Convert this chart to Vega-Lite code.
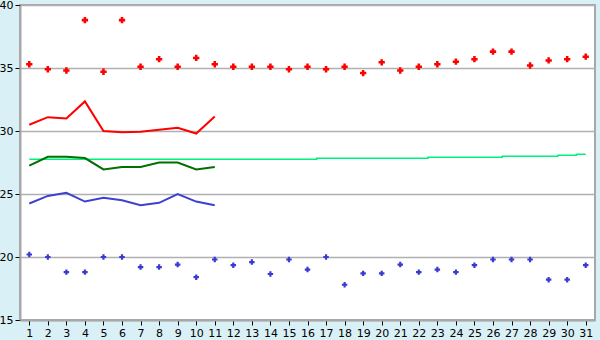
{
  "$schema": "https://vega.github.io/schema/vega-lite/v6.json",
  "width": 575,
  "height": 315,
  "autosize": {"type": "none"},
  "padding": {"left": 20, "top": 5, "right": 5, "bottom": 20},
  "background": "#d9f0f6",
  "config": {
    "view": {"fill": "white", "stroke": "#a8a8a8", "strokeWidth": 2},
    "axis": {"labelFont": "DejaVu Sans", "labelFontSize": 11, "labelColor": "black", "domainColor": "#a8a8a8", "domainWidth": 2, "tickColor": "black", "tickSize": 5, "labelPadding": 2}
  },
  "datasets": {
    "maxrec": [
      {"day": 1, "v": 35.3}, {"day": 2, "v": 34.9}, {"day": 3, "v": 34.8}, {"day": 4, "v": 38.8},
      {"day": 5, "v": 34.7}, {"day": 6, "v": 38.8}, {"day": 7, "v": 35.1}, {"day": 8, "v": 35.7},
      {"day": 9, "v": 35.1}, {"day": 10, "v": 35.8}, {"day": 11, "v": 35.3}, {"day": 12, "v": 35.1},
      {"day": 13, "v": 35.1}, {"day": 14, "v": 35.1}, {"day": 15, "v": 34.9}, {"day": 16, "v": 35.1},
      {"day": 17, "v": 34.9}, {"day": 18, "v": 35.1}, {"day": 19, "v": 34.6}, {"day": 20, "v": 35.45},
      {"day": 21, "v": 34.8}, {"day": 22, "v": 35.1}, {"day": 23, "v": 35.3}, {"day": 24, "v": 35.5},
      {"day": 25, "v": 35.7}, {"day": 26, "v": 36.3}, {"day": 27, "v": 36.3}, {"day": 28, "v": 35.2},
      {"day": 29, "v": 35.6}, {"day": 30, "v": 35.7}, {"day": 31, "v": 35.9}
    ],
    "minrec": [
      {"day": 1, "v": 20.2}, {"day": 2, "v": 20.0}, {"day": 3, "v": 18.8}, {"day": 4, "v": 18.8},
      {"day": 5, "v": 20.0}, {"day": 6, "v": 20.0}, {"day": 7, "v": 19.2}, {"day": 8, "v": 19.2},
      {"day": 9, "v": 19.4}, {"day": 10, "v": 18.4}, {"day": 11, "v": 19.8}, {"day": 12, "v": 19.35},
      {"day": 13, "v": 19.6}, {"day": 14, "v": 18.65}, {"day": 15, "v": 19.8}, {"day": 16, "v": 19.0},
      {"day": 17, "v": 20.0}, {"day": 18, "v": 17.8}, {"day": 19, "v": 18.7}, {"day": 20, "v": 18.7},
      {"day": 21, "v": 19.4}, {"day": 22, "v": 18.8}, {"day": 23, "v": 19.0}, {"day": 24, "v": 18.8},
      {"day": 25, "v": 19.35}, {"day": 26, "v": 19.8}, {"day": 27, "v": 19.8}, {"day": 28, "v": 19.8},
      {"day": 29, "v": 18.2}, {"day": 30, "v": 18.2}, {"day": 31, "v": 19.35}
    ],
    "maxline": [
      {"day": 1, "v": 30.5}, {"day": 2, "v": 31.1}, {"day": 3, "v": 31.0}, {"day": 4, "v": 32.35},
      {"day": 5, "v": 30.0}, {"day": 6, "v": 29.9}, {"day": 7, "v": 29.95}, {"day": 8, "v": 30.1},
      {"day": 9, "v": 30.25}, {"day": 10, "v": 29.8}, {"day": 11, "v": 31.15}
    ],
    "meanline": [
      {"day": 1, "v": 27.25}, {"day": 2, "v": 27.95}, {"day": 3, "v": 27.95}, {"day": 4, "v": 27.85},
      {"day": 5, "v": 26.95}, {"day": 6, "v": 27.15}, {"day": 7, "v": 27.15}, {"day": 8, "v": 27.5},
      {"day": 9, "v": 27.5}, {"day": 10, "v": 26.95}, {"day": 11, "v": 27.15}
    ],
    "minline": [
      {"day": 1, "v": 24.25}, {"day": 2, "v": 24.85}, {"day": 3, "v": 25.1}, {"day": 4, "v": 24.4},
      {"day": 5, "v": 24.7}, {"day": 6, "v": 24.5}, {"day": 7, "v": 24.1}, {"day": 8, "v": 24.3},
      {"day": 9, "v": 25.0}, {"day": 10, "v": 24.4}, {"day": 11, "v": 24.1}
    ],
    "normal": [
      {"day": 1, "v": 27.75}, {"day": 2, "v": 27.75}, {"day": 3, "v": 27.75}, {"day": 4, "v": 27.75},
      {"day": 5, "v": 27.75}, {"day": 6, "v": 27.75}, {"day": 7, "v": 27.75}, {"day": 8, "v": 27.75},
      {"day": 9, "v": 27.75}, {"day": 10, "v": 27.75}, {"day": 11, "v": 27.75}, {"day": 12, "v": 27.75},
      {"day": 13, "v": 27.75}, {"day": 14, "v": 27.75}, {"day": 15, "v": 27.75}, {"day": 16, "v": 27.75},
      {"day": 17, "v": 27.83}, {"day": 18, "v": 27.83}, {"day": 19, "v": 27.83}, {"day": 20, "v": 27.83},
      {"day": 21, "v": 27.83}, {"day": 22, "v": 27.83}, {"day": 23, "v": 27.91}, {"day": 24, "v": 27.91},
      {"day": 25, "v": 27.91}, {"day": 26, "v": 27.91}, {"day": 27, "v": 27.99}, {"day": 28, "v": 27.99},
      {"day": 29, "v": 27.99}, {"day": 30, "v": 28.07}, {"day": 31, "v": 28.15}
    ]
  },
  "encoding": {
    "x": {"field": "day", "type": "ordinal", "scale": {"type": "point", "padding": 0.5},
          "axis": {"title": null, "labelAngle": 0, "grid": false}},
    "y": {"field": "v", "type": "quantitative", "scale": {"domain": [15, 40], "nice": false, "zero": false},
          "axis": {"title": null, "values": [15, 20, 25, 30, 35, 40], "grid": true, "gridColor": "#b0b0b0", "gridWidth": 1.5, "gridOpacity": 1}}
  },
  "layer": [
    {"data": {"name": "normal"}, "mark": {"type": "line", "color": "#00f080", "strokeWidth": 1.5, "interpolate": "step"}},
    {"data": {"name": "maxline"}, "mark": {"type": "line", "color": "#ff0000", "strokeWidth": 2}},
    {"data": {"name": "meanline"}, "mark": {"type": "line", "color": "#007000", "strokeWidth": 2}},
    {"data": {"name": "minline"}, "mark": {"type": "line", "color": "#4040d0", "strokeWidth": 2}},
    {"data": {"name": "maxrec"}, "mark": {"type": "point", "shape": "cross", "filled": true, "color": "#ff0000", "size": 40, "opacity": 1}},
    {"data": {"name": "minrec"}, "mark": {"type": "point", "shape": "cross", "filled": true, "color": "#3a3ad0", "size": 30, "opacity": 1}}
  ]
}
